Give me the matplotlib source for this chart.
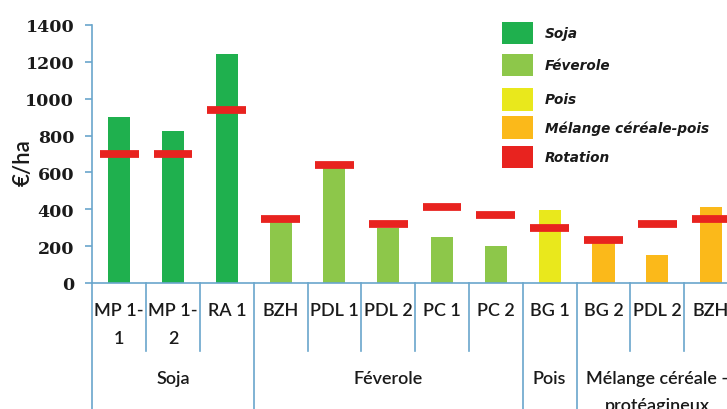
import matplotlib
matplotlib.use("Agg")
import matplotlib.pyplot as plt
from matplotlib.patches import Rectangle
from matplotlib.transforms import blended_transform_factory

# Data: gross margin per plot (€/ha) and the rotation average
categories = ["MP 1-\n1", "MP 1-\n2", "RA 1",
              "BZH", "PDL 1", "PDL 2", "PC 1", "PC 2",
              "BG 1",
              "BG 2", "PDL 2", "BZH"]
crop = ["Soja", "Soja", "Soja",
        "Féverole", "Féverole", "Féverole", "Féverole", "Féverole",
        "Pois",
        "Mélange", "Mélange", "Mélange"]
crop_values = [900, 825, 1240, 330, 625, 300, 250, 200, 395, 225, 150, 410]
rotation_values = [700, 700, 940, 350, 640, 320, 410, 370, 300, 235, 320, 345]

groups = ["Soja", "Féverole", "Pois", "Mélange céréale -\nprotéagineux"]
group_sizes = [3, 5, 1, 3]

legend_labels = ["Soja", "Féverole", "Pois", "Mélange céréale-pois", "Rotation"]
colors = {"Soja": "#1fb04e", "Féverole": "#8dc74a", "Pois": "#e9e81c",
          "Mélange": "#fbb91a", "Rotation": "#e8231f"}
axis_blue = "#6aa6cc"
text_color = "#1a1a1a"
label_font = ["Liberation Sans Narrow", "Lato", "DejaVu Sans"]

W, H = 727, 410
fig = plt.figure(figsize=(W / 100, H / 100), dpi=100)
fig.patch.set_facecolor("white")

# axes placed in pixel space; the last category runs past the right edge
x0, x1 = 92.3, 738.0
y_zero, y_top = 284.0, 26.0
ax = fig.add_axes([x0 / W, 1 - y_zero / H, (x1 - x0) / W, (y_zero - y_top) / H])

xs = list(range(len(categories)))
ax.bar(xs, crop_values, width=0.41, color=[colors[c] for c in crop], zorder=2)
ax.hlines(rotation_values, [x - 0.36 for x in xs], [x + 0.36 for x in xs],
          colors=colors["Rotation"], linewidth=5.6, zorder=3, capstyle="butt")

ax.set_xlim(-0.5, len(categories) - 0.5)
ax.set_ylim(0, 1400)
ax.set_yticks(range(0, 1401, 200))
ax.set_xticks([])

for side in ("top", "right"):
    ax.spines[side].set_visible(False)
for side in ("left", "bottom"):
    ax.spines[side].set_color(axis_blue)
    ax.spines[side].set_linewidth(1.2)
ax.tick_params(axis="y", colors=axis_blue, length=5, width=1.2, pad=8)
for lab in ax.get_yticklabels():
    lab.set_family("DejaVu Serif")
    lab.set_fontweight("bold")
    lab.set_fontsize(12.5)
    lab.set_color(text_color)

ax.set_ylabel("€/ha", family="Lato", fontsize=16, fontweight="semibold",
              color=text_color)
ax.yaxis.set_label_coords(-0.09, 0.47)

# category axis drawn below the plot: labels, short and long separators
tr = blended_transform_factory(ax.transData, ax.transAxes)
px = y_zero - y_top  # axes height in pixels


def below(y_pixel):
    """Axes-fraction y for a figure row given in pixels from the top."""
    return -(y_pixel - y_zero) / px


for i, lab in enumerate(categories):
    ax.text(i, below(303), lab, transform=tr, ha="center", va="top",
            family=label_font, fontsize=13, fontweight="semibold",
            linespacing=1.95, color=text_color)

boundaries = [0]
for s in group_sizes:
    boundaries.append(boundaries[-1] + s)
for b in range(len(categories)):
    x = b - 0.5
    end = below(420) if b in boundaries else below(352)
    ax.plot([x, x], [0, end], transform=tr, color=axis_blue, lw=1.2,
            clip_on=False, zorder=1)

for g, (start, size) in enumerate(zip(boundaries[:-1], group_sizes)):
    xc = start + size / 2 - 0.5
    ax.text(xc, below(371), groups[g], transform=tr, ha="center", va="top",
            family=label_font, fontsize=13, fontweight="semibold",
            linespacing=1.85, color=text_color)

# legend drawn in pixel coordinates
legend_boxes = [(22.7, 45.0), (55.0, 76.7), (89.0, 112.0), (116.7, 140.0), (146.7, 169.3)]
legend_colors = [colors["Soja"], colors["Féverole"], colors["Pois"],
                 colors["Mélange"], colors["Rotation"]]
for (top, bot), col, lab in zip(legend_boxes, legend_colors, legend_labels):
    fig.add_artist(Rectangle((501.7 / W, 1 - bot / H), 31.6 / W, (bot - top) / H,
                             transform=fig.transFigure, facecolor=col,
                             edgecolor="none"))
    fig.text(545 / W, 1 - (top + bot) / 2 / H, lab, ha="left", va="center",
             family="DejaVu Sans", style="italic", fontsize=9.8,
             fontweight="bold", color=text_color)

fig.savefig("out.png", dpi=100, facecolor="white")
